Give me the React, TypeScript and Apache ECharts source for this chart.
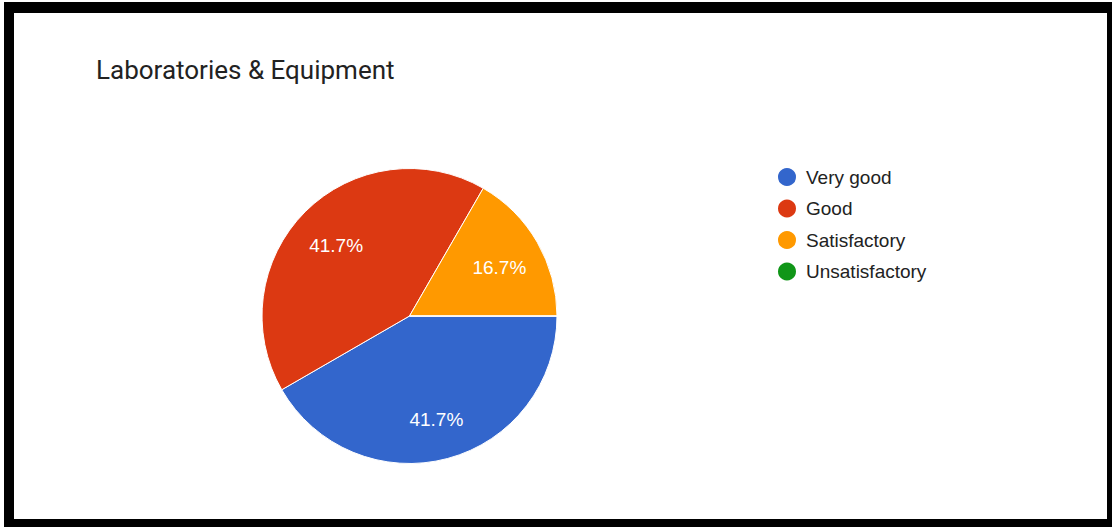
import React, { useEffect, useRef } from "react";
import * as echarts from "echarts";

const TITLE = "Laboratories & Equipment";
const categories = ["Very good", "Good", "Satisfactory", "Unsatisfactory"];
const values = [5, 5, 2, 0];
const colors = ["#3366CC", "#DC3912", "#FF9900", "#109618"];

export default function App() {
  const ref = useRef<HTMLDivElement>(null);
  useEffect(() => {
    if (!ref.current) return;
    const chart = echarts.init(ref.current, undefined, { renderer: "svg" });
    const total = values.reduce((a, b) => a + b, 0);
    const data = categories.map((name, i) => ({
      name,
      value: values[i],
      itemStyle: { color: colors[i] },
    }));
    const center = [409.5, 316];
    chart.setOption({
      animation: false,
      backgroundColor: "#ffffff",
      title: {
        text: TITLE,
        left: 96,
        top: 55,
        padding: 0,
        textStyle: {
          fontFamily: "Roboto",
          fontSize: 26,
          fontWeight: "normal",
          color: "#222222",
          lineHeight: 30,
        },
      },
      legend: {
        data: categories,
        orient: "vertical",
        left: 776,
        top: 166,
        padding: 0,
        icon: "circle",
        itemWidth: 20,
        itemHeight: 20,
        itemGap: 9.5,
        selectedMode: false,
        textStyle: {
          fontFamily: "Liberation Sans",
          fontSize: 19,
          lineHeight: 20,
          color: "#222222",
          padding: [0, 0, 0, 4],
        },
      },
      series: [
        {
          type: "pie",
          center,
          radius: [0, 147.5],
          startAngle: 0,
          clockwise: true,
          label: { show: false },
          labelLine: { show: false },
          itemStyle: { borderColor: "#ffffff", borderWidth: 1 },
          emphasis: { disabled: true },
          data,
        },
        {
          type: "pie",
          center,
          radius: [54, 147.5],
          startAngle: 0,
          clockwise: true,
          silent: true,
          itemStyle: { color: "rgba(0,0,0,0)" },
          labelLine: { show: false },
          emphasis: { disabled: true },
          label: {
            show: true,
            position: "inside",
            fontFamily: "Liberation Sans",
            fontSize: 19,
            color: "#ffffff",
            offset: [0, 3],
            formatter: (p: any) =>
              p.value > 0 ? ((p.value / total) * 100).toFixed(1) + "%" : "",
          },
          data: categories.map((name, i) => ({ name, value: values[i] })),
        },
      ],
      graphic: [
        { type: "rect", shape: { x: 4, y: 2, width: 10, height: 525 }, style: { fill: "#000" } },
        { type: "rect", shape: { x: 4, y: 2, width: 1108, height: 11 }, style: { fill: "#000" } },
        { type: "rect", shape: { x: 1107, y: 2, width: 5, height: 525 }, style: { fill: "#000" } },
        { type: "rect", shape: { x: 4, y: 519, width: 1108, height: 8 }, style: { fill: "#000" } },
      ],
    });
    return () => chart.dispose();
  }, []);
  return (
    <div
      ref={ref}
      style={{ position: "fixed", left: 0, top: 0, width: 1112, height: 527 }}
    />
  );
}
